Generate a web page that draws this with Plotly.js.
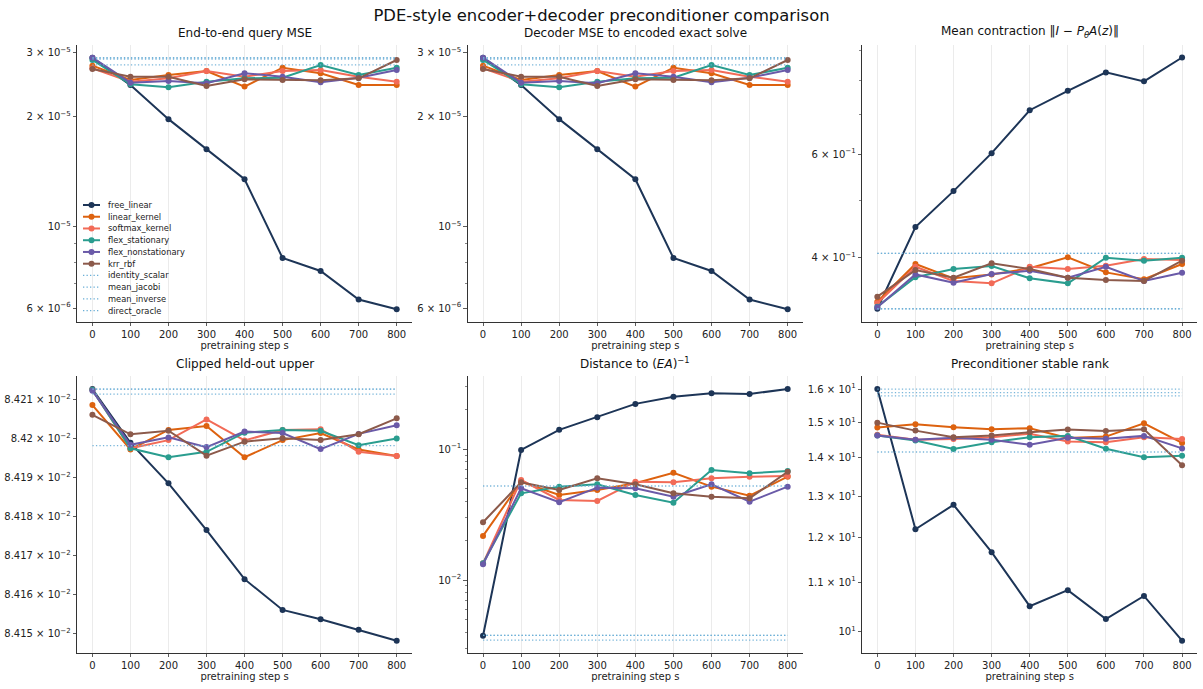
<!DOCTYPE html>
<html><head><meta charset="utf-8">
<script src="https://cdn.plot.ly/plotly-3.0.1.min.js"></script>
<style>html,body{margin:0;padding:0;background:#fff}#chart{width:1203px;height:689px}</style>
</head><body><div id="chart"></div>
<script>
// ---------------- data ----------------
const steps = [0, 100, 200, 300, 400, 500, 600, 700, 800];
const seriesNames = ['free_linear', 'linear_kernel', 'softmax_kernel', 'flex_stationary', 'flex_nonstationary', 'krr_rbf'];
const baselineNames = ['identity_scalar', 'mean_jacobi', 'mean_inverse', 'direct_oracle'];

// End-to-end query MSE (rows follow seriesNames)
const queryMse = [
  [2.90e-5, 2.44e-5, 1.97e-5, 1.63e-5, 1.35e-5, 8.22e-6, 7.58e-6, 6.33e-6, 5.96e-6],
  [2.758e-5, 2.52e-5, 2.60e-5, 2.667e-5, 2.417e-5, 2.723e-5, 2.629e-5, 2.442e-5, 2.442e-5],
  [2.713e-5, 2.493e-5, 2.547e-5, 2.667e-5, 2.573e-5, 2.667e-5, 2.684e-5, 2.573e-5, 2.493e-5],
  [2.858e-5, 2.453e-5, 2.408e-5, 2.493e-5, 2.547e-5, 2.557e-5, 2.77e-5, 2.60e-5, 2.723e-5],
  [2.90e-5, 2.478e-5, 2.504e-5, 2.468e-5, 2.629e-5, 2.573e-5, 2.484e-5, 2.557e-5, 2.684e-5],
  [2.70e-5, 2.573e-5, 2.573e-5, 2.427e-5, 2.531e-5, 2.52e-5, 2.515e-5, 2.547e-5, 2.858e-5]
];
const queryMseBaselines = [2.90e-5, 2.875e-5, 2.77e-5, 2.89e-5];

// Decoder MSE to encoded exact solve
const decoderMse = [
  [2.90e-5, 2.44e-5, 1.97e-5, 1.63e-5, 1.35e-5, 8.22e-6, 7.58e-6, 6.33e-6, 5.96e-6],
  [2.758e-5, 2.52e-5, 2.60e-5, 2.667e-5, 2.417e-5, 2.723e-5, 2.629e-5, 2.442e-5, 2.442e-5],
  [2.713e-5, 2.493e-5, 2.547e-5, 2.667e-5, 2.573e-5, 2.667e-5, 2.684e-5, 2.573e-5, 2.493e-5],
  [2.858e-5, 2.453e-5, 2.408e-5, 2.493e-5, 2.547e-5, 2.557e-5, 2.77e-5, 2.60e-5, 2.723e-5],
  [2.90e-5, 2.478e-5, 2.504e-5, 2.468e-5, 2.629e-5, 2.573e-5, 2.484e-5, 2.557e-5, 2.684e-5],
  [2.70e-5, 2.573e-5, 2.573e-5, 2.427e-5, 2.531e-5, 2.52e-5, 2.515e-5, 2.547e-5, 2.858e-5]
];
const decoderMseBaselines = [2.90e-5, 2.875e-5, 2.77e-5, 2.89e-5];

// Mean contraction ||I - P A(z)||
const contraction = [
  [0.3277, 0.451, 0.519, 0.602, 0.712, 0.768, 0.8255, 0.797, 0.875],
  [0.3369, 0.3903, 0.3691, 0.3748, 0.3838, 0.4006, 0.3778, 0.3677, 0.3903],
  [0.3348, 0.3862, 0.3652, 0.3619, 0.3862, 0.3827, 0.3877, 0.398, 0.3964],
  [0.3304, 0.3706, 0.3827, 0.3873, 0.3691, 0.3619, 0.400, 0.3954, 0.400],
  [0.3296, 0.3748, 0.3628, 0.3753, 0.3802, 0.370, 0.3862, 0.3652, 0.3772],
  [0.3436, 0.3812, 0.370, 0.3914, 0.3827, 0.370, 0.3667, 0.3652, 0.3954]
];
const contractionBaselines = [0.407, 0.407, 0.3277, 0.3277];

// Clipped held-out upper
const clippedUpper = [
  [0.0842128, 0.0841990, 0.0841886, 0.0841766, 0.0841640, 0.0841561, 0.0841537, 0.0841510, 0.0841482],
  [0.0842087, 0.0841973, 0.0842023, 0.0842033, 0.0841953, 0.0841997, 0.0842015, 0.0841973, 0.0841956],
  [0.0842126, 0.0841976, 0.0841997, 0.0842050, 0.0841996, 0.0842023, 0.0842025, 0.0841967, 0.0841956],
  [0.0842126, 0.0841976, 0.0841953, 0.0841967, 0.0842016, 0.0842023, 0.0842021, 0.0841984, 0.0842001],
  [0.0842124, 0.0841985, 0.0842004, 0.0841979, 0.0842019, 0.0842015, 0.0841974, 0.0842013, 0.0842035],
  [0.0842062, 0.0842012, 0.0842021, 0.0841957, 0.0841993, 0.0842002, 0.0841997, 0.0842012, 0.0842053]
];
const clippedUpperBaselines = [0.0842128, 0.0842115, 0.0841983, 0.0842128];

// Distance to (EA)^-1
const distanceInv = [
  [0.00375, 0.0983, 0.140, 0.175, 0.221, 0.251, 0.266, 0.263, 0.287],
  [0.0217, 0.0563, 0.0446, 0.0486, 0.0547, 0.0659, 0.0516, 0.0440, 0.0615],
  [0.0134, 0.0580, 0.0408, 0.0401, 0.0563, 0.0557, 0.0598, 0.0615, 0.0622],
  [0.0134, 0.0459, 0.0516, 0.0538, 0.0446, 0.0389, 0.0691, 0.0653, 0.0679],
  [0.0132, 0.0501, 0.0392, 0.0507, 0.0501, 0.0432, 0.0538, 0.0396, 0.0516],
  [0.0276, 0.0557, 0.0486, 0.0598, 0.0538, 0.0459, 0.0432, 0.0420, 0.0671]
];
const distanceInvBaselines = [0.0522, 0.00378, 0.00347, 0.00378];

// Preconditioner stable rank
const stableRank = [
  [16.0, 12.19, 12.78, 11.66, 10.50, 10.83, 10.24, 10.71, 9.82],
  [14.85, 14.94, 14.86, 14.80, 14.83, 14.55, 14.59, 14.97, 14.41],
  [14.64, 14.50, 14.52, 14.57, 14.67, 14.45, 14.43, 14.57, 14.52],
  [14.62, 14.48, 14.24, 14.43, 14.57, 14.61, 14.25, 14.02, 14.06],
  [14.62, 14.50, 14.56, 14.50, 14.36, 14.56, 14.53, 14.61, 14.26],
  [14.99, 14.76, 14.57, 14.62, 14.71, 14.79, 14.75, 14.80, 13.80]
];
const stableRankBaselines = [16.0, 15.89, 15.79, 14.16];

// tick labels
const p1TickVals = [6e-6, 1e-5, 2e-5, 3e-5];
const p1TickText = ['6 × 10<sup>−6</sup>', '10<sup>−5</sup>', '2 × 10<sup>−5</sup>', '3 × 10<sup>−5</sup>'];
const p3TickVals = [0.4, 0.6];
const p3TickText = ['4 × 10<sup>−1</sup>', '6 × 10<sup>−1</sup>'];
const p4TickVals = [0.08415, 0.08416, 0.08417, 0.08418, 0.08419, 0.0842, 0.08421];
const p4TickText = ['8.415 × 10<sup>−2</sup>', '8.416 × 10<sup>−2</sup>', '8.417 × 10<sup>−2</sup>', '8.418 × 10<sup>−2</sup>', '8.419 × 10<sup>−2</sup>', '8.42 × 10<sup>−2</sup>', '8.421 × 10<sup>−2</sup>'];
const p5TickVals = [0.01, 0.1];
const p5TickText = ['10<sup>−2</sup>', '10<sup>−1</sup>'];
const p6TickVals = [10, 11, 12, 13, 14, 15, 16];
const p6TickText = ['10<sup>1</sup>', '1.1 × 10<sup>1</sup>', '1.2 × 10<sup>1</sup>', '1.3 × 10<sup>1</sup>', '1.4 × 10<sup>1</sup>', '1.5 × 10<sup>1</sup>', '1.6 × 10<sup>1</sup>'];

// ---------------- styles ----------------
const W = 1203, H = 689;
const FONT = 'DejaVu Sans, Liberation Sans, sans-serif';
const seriesColors = ['#1d3557', '#dd620f', '#f26b57', '#2a9d8f', '#6a5aa8', '#8c5a4b'];
const baseColor = '#6aaed6';
const colPx = [[77.2, 411.9], [467.8, 802.9], [862.1, 1197.3]];
const rowPx = [[45, 321.7], [376, 652.7]];

const panels = [
  {title: 'End-to-end query MSE', data: queryMse, base: queryMseBaselines, type: 'log', range: [-5.259, -4.503],
   tv: p1TickVals, tt: p1TickText, minor: [7e-6, 8e-6, 9e-6], grid: [1e-5]},
  {title: 'Decoder MSE to encoded exact solve', data: decoderMse, base: decoderMseBaselines, type: 'log', range: [-5.259, -4.503],
   tv: p1TickVals, tt: p1TickText, minor: [7e-6, 8e-6, 9e-6], grid: [1e-5]},
  {title: 'Mean contraction ‖<i>I</i> − <i>P</i><sub><i>θ</i></sub><i>A</i>(<i>z</i>)‖', data: contraction, base: contractionBaselines, type: 'log', range: [-0.5065, -0.0368],
   tv: p3TickVals, tt: p3TickText, minor: [0.5, 0.7, 0.8, 0.9], grid: []},
  {title: 'Clipped held-out upper', data: clippedUpper, base: clippedUpperBaselines, type: 'linear', range: [0.08414512, 0.08421616],
   tv: p4TickVals, tt: p4TickText, minor: [], grid: []},
  {title: 'Distance to (<i>EA</i>)<sup>−1</sup>', data: distanceInv, base: distanceInvBaselines, type: 'log', range: [-2.555, -0.4427],
   tv: p5TickVals, tt: p5TickText, minor: [0.003, 0.004, 0.005, 0.006, 0.007, 0.008, 0.009, 0.02, 0.03, 0.04, 0.05, 0.06, 0.07, 0.08, 0.09, 0.2, 0.3], grid: [0.01, 0.1]},
  {title: 'Preconditioner stable rank', data: stableRank, base: stableRankBaselines, type: 'log', range: [0.98197, 1.2151],
   tv: p6TickVals, tt: p6TickText, minor: [], grid: [10]}
];

const traces = [];
const layout = {
  width: W, height: H,
  margin: {l: 0, r: 0, t: 0, b: 0},
  paper_bgcolor: '#fff', plot_bgcolor: '#fff',
  font: {family: FONT, size: 10, color: '#222'},
  showlegend: false,
  title: {text: 'PDE-style encoder+decoder preconditioner comparison', font: {family: FONT, size: 16.4, color: '#111'},
          x: 0.5, xanchor: 'center', xref: 'paper', y: 1 - 15 / H, yref: 'container', yanchor: 'middle'},
  annotations: [], shapes: []
};

panels.forEach((p, i) => {
  const n = i + 1;
  const xa = 'x' + (n === 1 ? '' : n), ya = 'y' + (n === 1 ? '' : n);
  const col = i % 3, row = Math.floor(i / 3);
  const xd = [colPx[col][0] / W, colPx[col][1] / W];
  const yd = [1 - rowPx[row][1] / H, 1 - rowPx[row][0] / H];

  p.data.forEach((vals, k) => {
    traces.push({x: steps, y: vals, xaxis: xa, yaxis: ya, type: 'scatter', mode: 'lines+markers', name: seriesNames[k],
      line: {color: seriesColors[k], width: 2}, marker: {color: seriesColors[k], size: 6}, hoverinfo: 'skip'});
  });
  p.base.forEach((v, k) => {
    traces.push({x: steps, y: steps.map(() => v), xaxis: xa, yaxis: ya, type: 'scatter', mode: 'lines', name: baselineNames[k],
      line: {color: baseColor, width: 1.3, dash: '1.3px,2.2px'}, opacity: 0.9, hoverinfo: 'skip'});
  });

  layout['xaxis' + (n === 1 ? '' : n)] = {
    domain: xd, anchor: ya, range: [-40, 840], type: 'linear',
    tickvals: steps, ticktext: steps.map(String),
    showline: true, linecolor: '#333', linewidth: 1, mirror: false,
    ticks: 'outside', ticklen: 3.5, tickwidth: 0.8, tickcolor: '#333',
    showgrid: true, gridcolor: '#ebebeb', gridwidth: 1, zeroline: false,
    tickfont: {family: FONT, size: 10, color: '#222'},
    title: {text: 'pretraining step s', font: {family: FONT, size: 10, color: '#222'}, standoff: 2},
    automargin: false
  };
  const yax = {
    domain: yd, anchor: xa, type: p.type, range: p.range,
    tickmode: 'array', tickvals: p.tv, ticktext: p.tt,
    showline: true, linecolor: '#333', linewidth: 1, mirror: false,
    ticks: 'outside', ticklen: 3.5, tickwidth: 0.8, tickcolor: '#333',
    showgrid: false, zeroline: false,
    tickfont: {family: FONT, size: 10, color: '#222'},
    automargin: false
  };
  if (p.minor.length) {
    yax.minor = {tickmode: 'array', tickvals: p.minor, ticks: 'outside', ticklen: 2, tickwidth: 0.6, tickcolor: '#333', showgrid: false};
  }
  layout['yaxis' + (n === 1 ? '' : n)] = yax;

  p.grid.forEach(g => {
    const gv = p.type === 'log' ? Math.log10(g) : g;
    layout.shapes.push({type: 'line', xref: xa + ' domain', yref: ya, x0: 0, x1: 1, y0: gv, y1: gv,
      line: {color: '#ebebeb', width: 1}, layer: 'below'});
  });

  layout.annotations.push({text: p.title, xref: 'paper', yref: 'paper', x: (xd[0] + xd[1]) / 2, y: yd[1],
    xanchor: 'center', yanchor: 'bottom', yshift: 3, showarrow: false,
    font: {family: FONT, size: 12, color: '#111'}});
});

// legend (inside first panel, lower left)
const legendNames = seriesNames.concat(baselineNames);
legendNames.forEach((name, i) => {
  const py = 205 + i * 11.74;
  const yp = 1 - py / H;
  const isSeries = i < seriesNames.length;
  const c = isSeries ? seriesColors[i] : baseColor;
  layout.shapes.push({type: 'line', xref: 'paper', yref: 'paper', x0: 83 / W, x1: 100 / W, y0: yp, y1: yp,
    line: isSeries ? {color: c, width: 2} : {color: c, width: 1.3, dash: '1.3px,2.2px'}});
  if (isSeries) {
    layout.shapes.push({type: 'circle', xref: 'paper', yref: 'paper', xsizemode: 'pixel', ysizemode: 'pixel',
      xanchor: 91.5 / W, yanchor: yp, x0: -3, x1: 3, y0: -3, y1: 3, fillcolor: c, line: {color: c, width: 0}});
  }
  layout.annotations.push({text: name, xref: 'paper', yref: 'paper', x: 105.5 / W, y: yp, xanchor: 'left', yanchor: 'middle',
    showarrow: false, font: {family: FONT, size: 8.3, color: '#222'}});
});

Plotly.newPlot('chart', traces, layout, {staticPlot: true, displayModeBar: false});
</script>
</body></html>
